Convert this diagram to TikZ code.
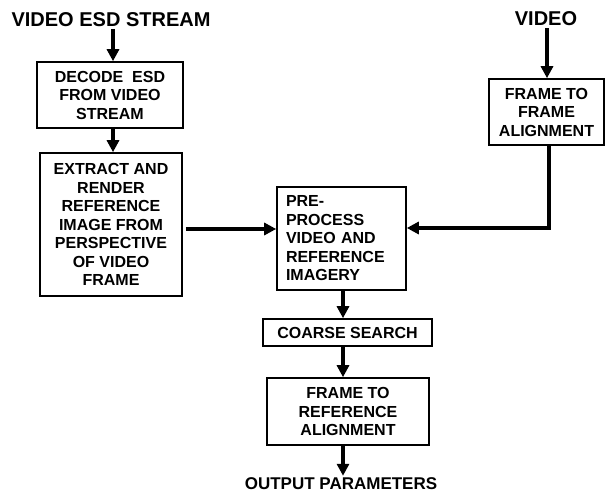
\documentclass[tikz,border=0pt]{standalone}
\usepackage{fontspec}
\setmainfont{Liberation Sans}
\usetikzlibrary{arrows.meta}
\begin{document}
\begin{tikzpicture}[x=1pt,y=-1pt,
  box/.style={draw=black, line width=1.6pt, rectangle, inner sep=0pt, align=center,
    font=\fontsize{16}{18.5}\selectfont\bfseries},
  lbl/.style={inner sep=0pt, font=\fontsize{20}{22}\selectfont\bfseries},
  arr/.style={line width=3.2pt, -{Triangle[width=12pt,length=12pt]}},
  ln/.style={line width=3.2pt}]
\useasboundingbox (0,0) rectangle (605,492);
\node[lbl] (t1) at (111,19.5) {VIDEO ESD STREAM};
\node[lbl] (t2) at (546,19) {VIDEO};
\node[box, minimum width=146pt, minimum height=66pt] (b1) at (110,95) {DECODE\ \ ESD\\FROM VIDEO\\STREAM};
\node[box, minimum width=142pt, minimum height=143pt] (b2) at (111,224.5) {EXTRACT AND\\RENDER\\REFERENCE\\IMAGE FROM\\PERSPECTIVE\\OF VIDEO\\FRAME};
\node[box, minimum width=115pt, minimum height=66pt] (ff) at (546.5,112) {FRAME TO\\FRAME\\ALIGNMENT};
\node[box, minimum width=129pt, minimum height=103pt, text width=111pt, align=left] (pp) at (341.5,238.5) {PRE-\\PROCESS\\VIDEO AND\\REFERENCE\\IMAGERY};
\node[box, minimum width=169pt, minimum height=27pt] (cs) at (347.5,332.5) {COARSE SEARCH};
\node[box, minimum width=162pt, minimum height=67pt] (fr) at (348,411.5) {FRAME TO\\REFERENCE\\ALIGNMENT};
\node[inner sep=0pt, font=\fontsize{17}{19}\selectfont\bfseries] (out) at (341,484) {OUTPUT PARAMETERS};
\draw[arr] (t1.south -| 113,0) ++(0,2) coordinate (a1) -- (a1 |- b1.north);
\draw[arr] (b1.south -| 113,0) -- (b2.north -| 113,0);
\draw[arr] (t2.south) ++(1,2) coordinate (a2) -- (a2 |- ff.north);
\draw[arr] (b2.east |- 0,229) ++(3,0) coordinate (a3) -- (pp.west |- a3);
\draw[arr] (ff.south -| 549,0) |- (pp.east |- 0,228);
\draw[arr] (pp.south -| 343,0) -- (cs.north -| 343,0);
\draw[arr] (cs.south -| 343,0) -- (fr.north -| 343,0);
\draw[arr] (fr.south -| 343,0) -- ([yshift=2pt]out.north -| 343,0);
\end{tikzpicture}
\end{document}
